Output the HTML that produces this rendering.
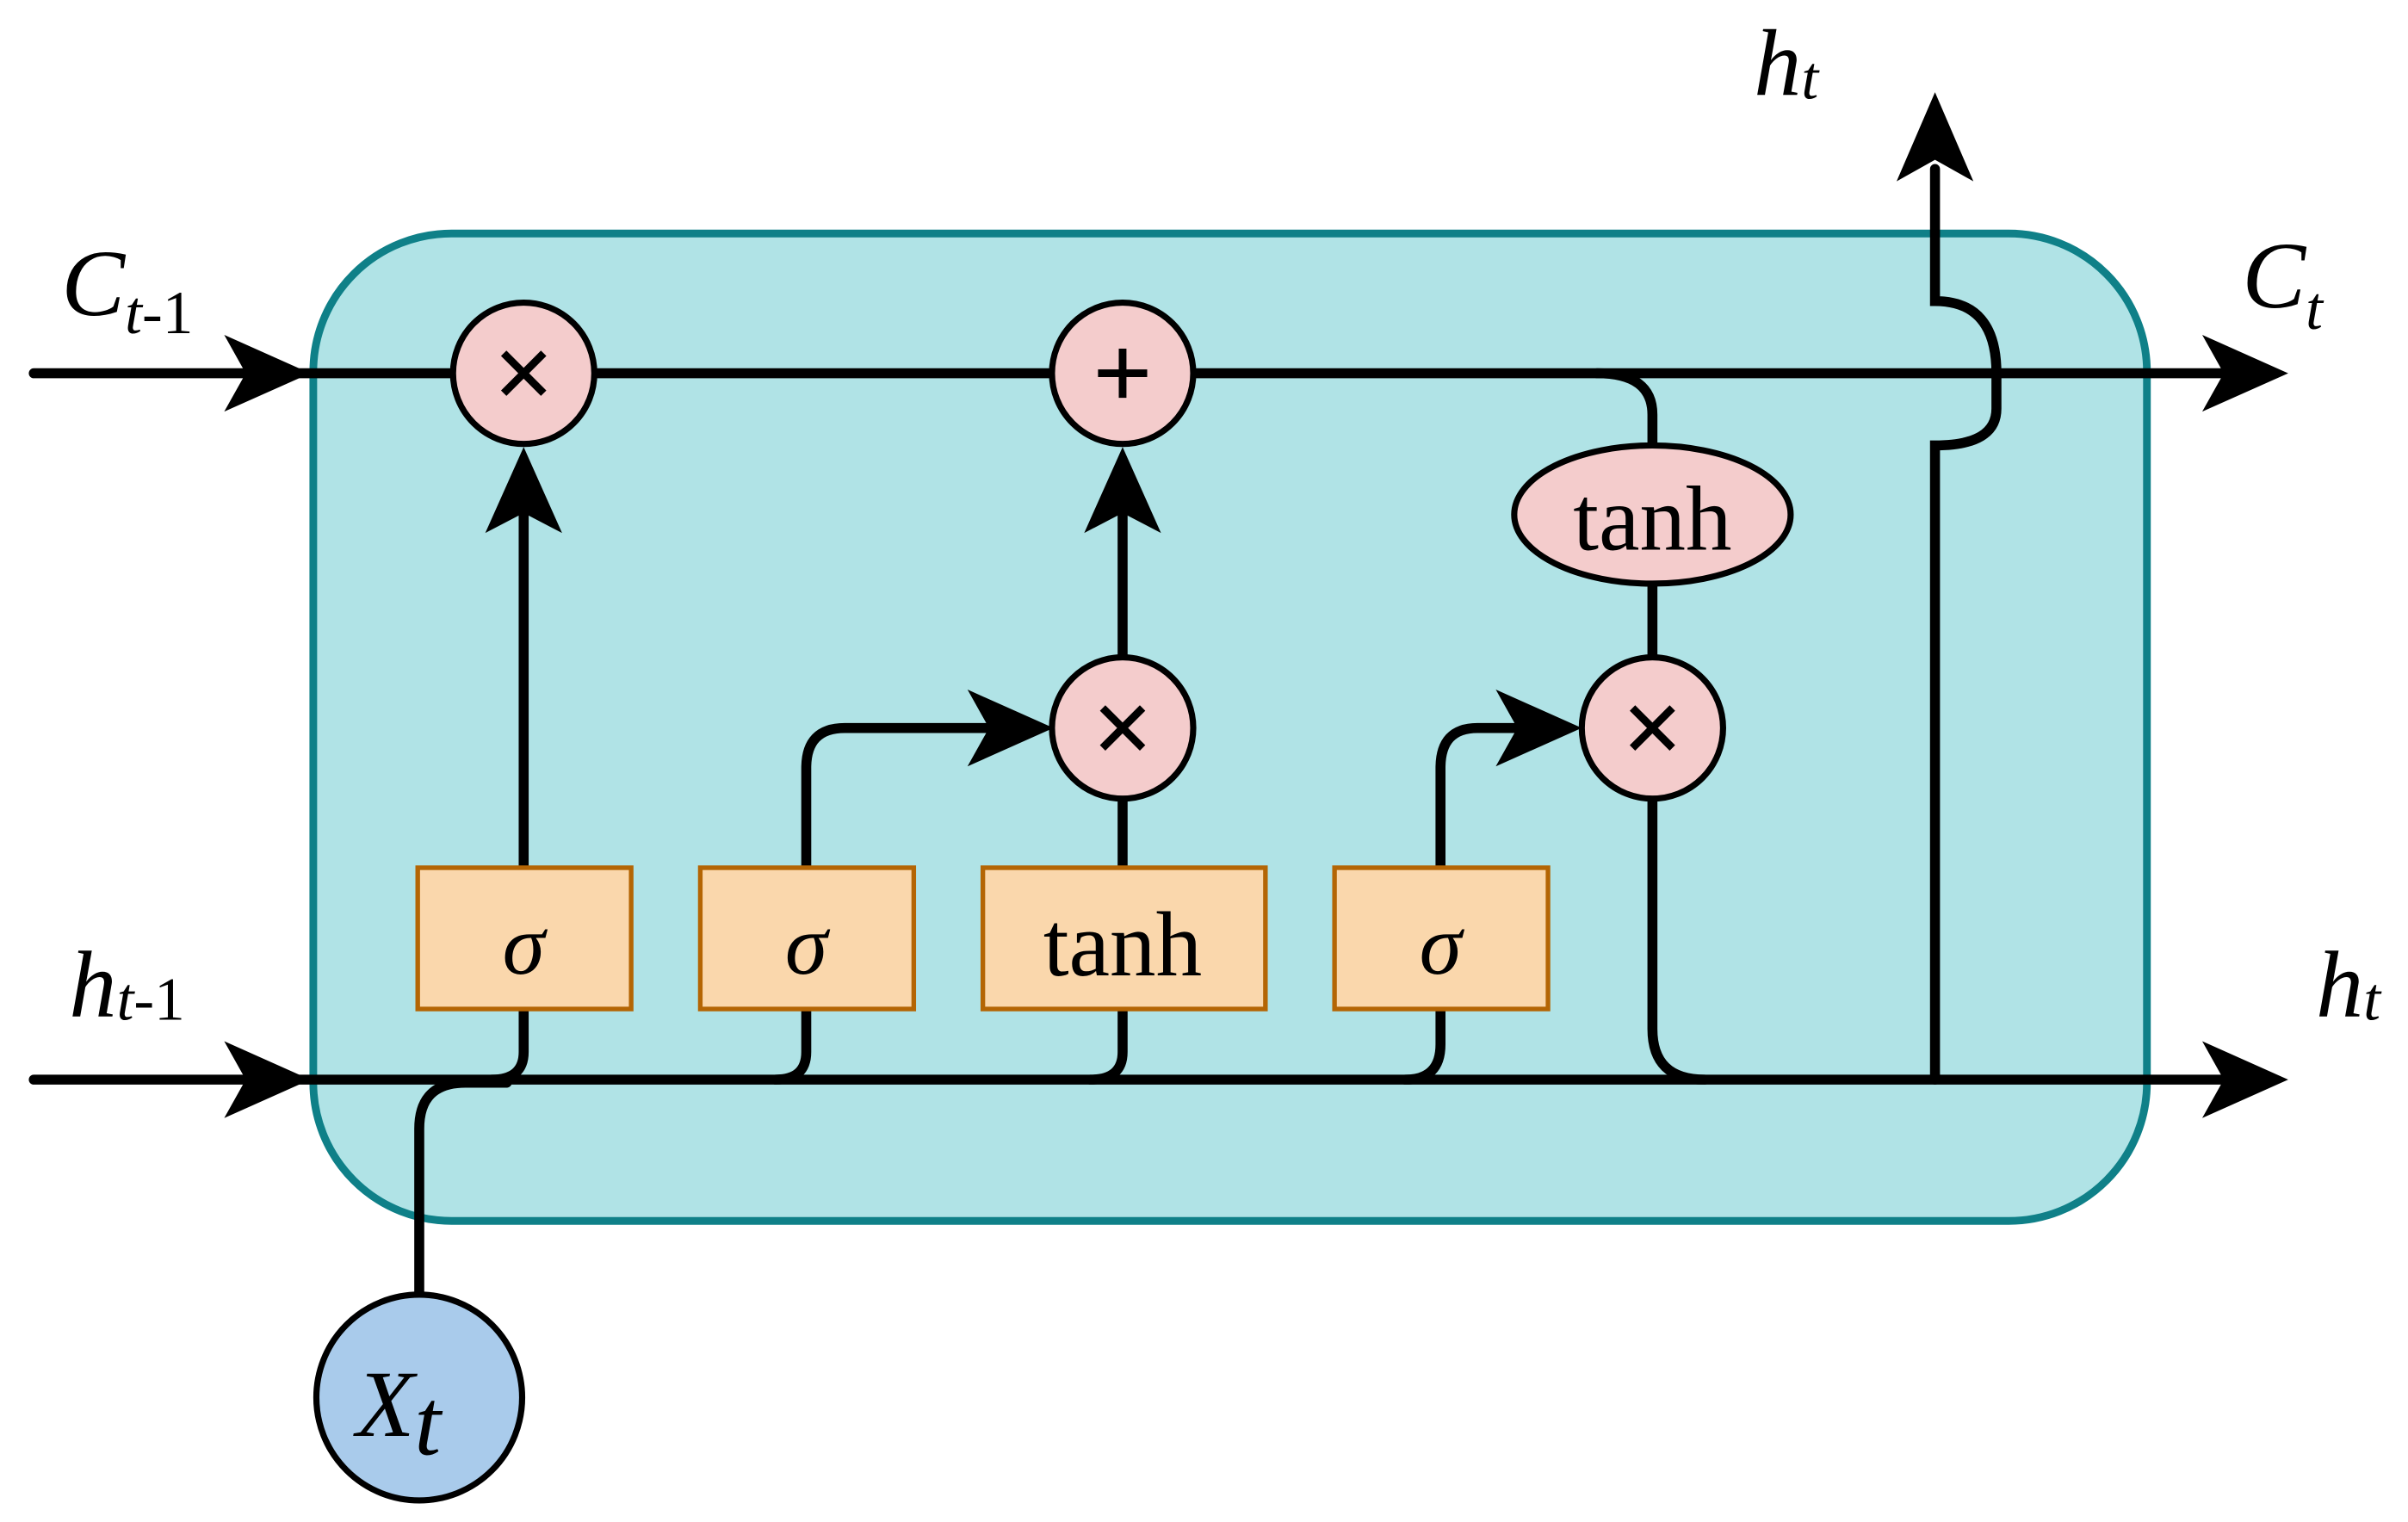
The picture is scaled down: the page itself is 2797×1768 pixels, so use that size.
<!DOCTYPE html>
<html><head><meta charset="utf-8"><style>
html,body{margin:0;padding:0;background:#fff;}
svg{display:block;}
text{font-family:"Liberation Serif",serif;}
</style></head><body>
<svg width="2797" height="1768" viewBox="0 0 1568 991" xmlns="http://www.w3.org/2000/svg">
<rect x="204" y="152" width="1194" height="643" rx="90" fill="#b0e3e6" stroke="#0f8088" stroke-width="5"/>
<g fill="none" stroke="#000" stroke-width="6.5" stroke-linecap="round">
<line x1="22" y1="243" x2="1450" y2="243"/>
<line x1="22" y1="703" x2="1450" y2="703"/>
<path d="M273 845 V735 Q273 705 303 705 H330"/>
<path d="M341 565 V685 Q341 703 320 703"/>
<path d="M525 565 V685 Q525 703 505 703"/>
<path d="M731 520 V685 Q731 703 710 703"/>
<path d="M938 657 V680 Q938 703 915 703"/>
<line x1="341" y1="565" x2="341" y2="330"/>
<path d="M525 565 V500 Q525 474 550 474 H650"/>
<line x1="731" y1="428" x2="731" y2="330"/>
<path d="M938 565 V500 Q938 474 962 474 H990"/>
<path d="M1040 243 Q1076 243 1076 270 V290"/>
<line x1="1076" y1="380" x2="1076" y2="428"/>
<path d="M1076 520 V670 Q1076 703 1110 703"/>
<path d="M1260 703 V290 Q1300 290 1300 266 Q1300 243 1300 243 Q1300 196 1260 196 V110"/>
</g>
<g fill="#000">
<polygon points="146,218 202,243 146,268 160,243"/>
<polygon points="146,678 202,703 146,728 160,703"/>
<polygon points="1434,218 1490,243 1434,268 1448,243"/>
<polygon points="1434,678 1490,703 1434,728 1448,703"/>
<polygon points="316,347 341,291 366,347 341,334"/>
<polygon points="706,347 731,291 756,347 731,334"/>
<polygon points="1235,118 1260,60 1285,118 1260,104"/>
<polygon points="630,449 686,474 630,499 644,474"/>
<polygon points="974,449 1030,474 974,499 988,474"/>
</g>
<g fill="#f4cccc" stroke="#000" stroke-width="4">
<circle cx="341" cy="243" r="46"/>
<circle cx="731" cy="243" r="46"/>
<circle cx="731" cy="474" r="46"/>
<circle cx="1076" cy="474" r="46"/>
<ellipse cx="1076" cy="335" rx="90" ry="45"/>
</g>
<g stroke="#000" stroke-width="5" stroke-linecap="butt">
<path d="M328 230 L354 256 M354 230 L328 256"/>
<path d="M718 461 L744 487 M744 461 L718 487"/>
<path d="M1063 461 L1089 487 M1089 461 L1063 487"/>
<path d="M731 227 V259 M715 243 H747"/>
</g>
<g fill="#fad7ac" stroke="#b46504" stroke-width="3">
<rect x="272" y="565" width="139" height="92"/>
<rect x="456" y="565" width="139" height="92"/>
<rect x="640" y="565" width="184" height="92"/>
<rect x="869" y="565" width="139" height="92"/>
</g>
<circle cx="273" cy="910" r="67" fill="#a9cbeb" stroke="#000" stroke-width="4"/>
<g text-anchor="middle" fill="#000">
<text x="1076" y="358" font-size="60">tanh</text>
<text x="731" y="635" font-size="60">tanh</text>
<text x="341" y="634" font-size="56" font-style="italic">σ</text>
<text x="525" y="634" font-size="56" font-style="italic">σ</text>
<text x="938" y="634" font-size="56" font-style="italic">σ</text>
</g>
<g fill="#000" font-size="62" font-style="italic">
<text x="232" y="935">X<tspan font-size="62" dy="12">t</tspan></text>
<text x="40" y="205">C<tspan font-size="40" dy="12">t</tspan><tspan font-size="40" font-style="normal">-1</tspan></text>
<text x="45" y="662">h<tspan font-size="40" dy="2">t</tspan><tspan font-size="40" font-style="normal">-1</tspan></text>
<text x="1142" y="62">h<tspan font-size="40" dy="2">t</tspan></text>
<text x="1460" y="200">C<tspan font-size="40" dy="14">t</tspan></text>
<text x="1508" y="662">h<tspan font-size="40" dy="2">t</tspan></text>
</g>
</svg>
</body></html>
